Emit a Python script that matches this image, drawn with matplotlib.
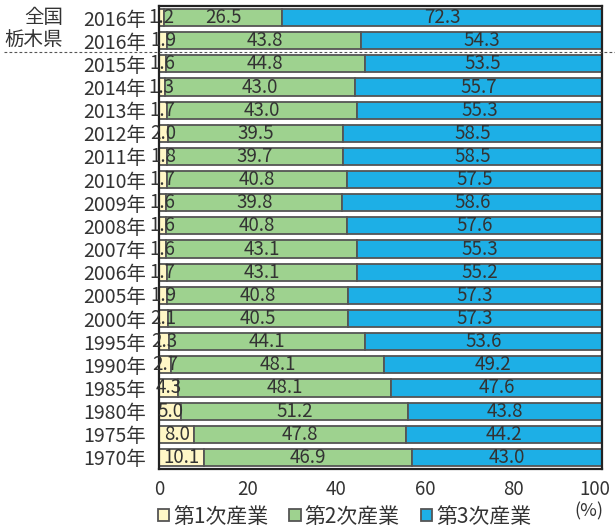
import matplotlib

matplotlib.use("Agg")
import matplotlib.pyplot as plt
from matplotlib.patches import Patch
from matplotlib.transforms import ScaledTranslation

TEXT = "#333333"
EDGE = "#555555"
C1 = "#FFF7C6"
C2 = "#9ED28F"
C3 = "#1DAFE6"

groups = ["全国", "栃木県"] + [""] * 18
years = ["2016年", "2016年", "2015年", "2014年", "2013年", "2012年", "2011年",
         "2010年", "2009年", "2008年", "2007年", "2006年", "2005年", "2000年",
         "1995年", "1990年", "1985年", "1980年", "1975年", "1970年"]
primary = [1.2, 1.9, 1.6, 1.3, 1.7, 2.0, 1.8, 1.7, 1.6, 1.6, 1.6, 1.7, 1.9,
           2.1, 2.3, 2.7, 4.3, 5.0, 8.0, 10.1]
secondary = [26.5, 43.8, 44.8, 43.0, 43.0, 39.5, 39.7, 40.8, 39.8, 40.8, 43.1,
             43.1, 40.8, 40.5, 44.1, 48.1, 48.1, 51.2, 47.8, 46.9]
tertiary = [72.3, 54.3, 53.5, 55.7, 55.3, 58.5, 58.5, 57.5, 58.6, 57.6, 55.3,
            55.2, 57.3, 57.3, 53.6, 49.2, 47.6, 43.8, 44.2, 43.0]
legend_labels = ["第1次産業", "第2次産業", "第3次産業"]


def main() -> None:
    plt.rcParams["font.family"] = ["Noto Sans CJK JP", "DejaVu Sans"]
    plt.rcParams["text.color"] = TEXT
    fig = plt.figure(figsize=(6.15, 5.26), dpi=100)
    ax = fig.add_axes([0.2585, 0.1084, 0.7205, 0.8802])

    ys = list(range(len(years)))
    h = 0.74
    left2 = primary
    left3 = [a + b for a, b in zip(primary, secondary)]
    for vals, lefts, color in [
        (primary, [0] * len(ys), C1),
        (secondary, left2, C2),
        (tertiary, left3, C3),
    ]:
        ax.barh(ys, vals, left=lefts, height=h, color=color,
                edgecolor=EDGE, linewidth=1.3, zorder=2)
        for y, v, l in zip(ys, vals, lefts):
            ax.text(l + v / 2, y, f"{v:.1f}", ha="center", va="center",
                    fontsize=13.5, color=TEXT, zorder=4)

    ax.set_xlim(0, 100)
    ax.set_ylim(len(ys) - 0.5, -0.5)
    ax.set_yticks(ys, years)
    ax.set_xticks([0, 20, 40, 60, 80, 100])
    ax.tick_params(axis="both", length=0, labelsize=14, labelcolor=TEXT)
    ax.tick_params(axis="x", labelsize=13.5, pad=7)
    ax.tick_params(axis="y", pad=9)
    # nudge "100" left so it stays inside the figure
    last = ax.get_xticklabels()[-1]
    last.set_transform(last.get_transform()
                       + ScaledTranslation(-5 / 72, 0, fig.dpi_scale_trans))
    for s in ax.spines.values():
        s.set_color("#222222")
        s.set_linewidth(1.6)

    trans = ax.get_yaxis_transform()
    for y, g in zip(ys, groups):
        if g:
            ax.text(-0.217, y, g, transform=trans, ha="right", va="center",
                    fontsize=14, color=TEXT)
    ax.plot([-0.35, 1.03], [1.5, 1.5], transform=trans, clip_on=False,
            color="#555555", linestyle=(0, (2.5, 2)), linewidth=0.8, zorder=5)

    ax.text(0.97, -0.072, "(%)", transform=ax.transAxes, ha="center",
            va="top", fontsize=13, color=TEXT)

    handles = [Patch(facecolor=c, edgecolor=EDGE, linewidth=1.3)
               for c in (C1, C2, C3)]
    fig.legend(handles, legend_labels, loc="center", ncol=3,
               bbox_to_anchor=(0.56, 0.018), frameon=False, fontsize=15,
               handlelength=0.55, handleheight=0.55, handletextpad=0.2,
               columnspacing=1.0, borderaxespad=0)

    fig.savefig("out.png", dpi=100)


if __name__ == "__main__":
    main()
